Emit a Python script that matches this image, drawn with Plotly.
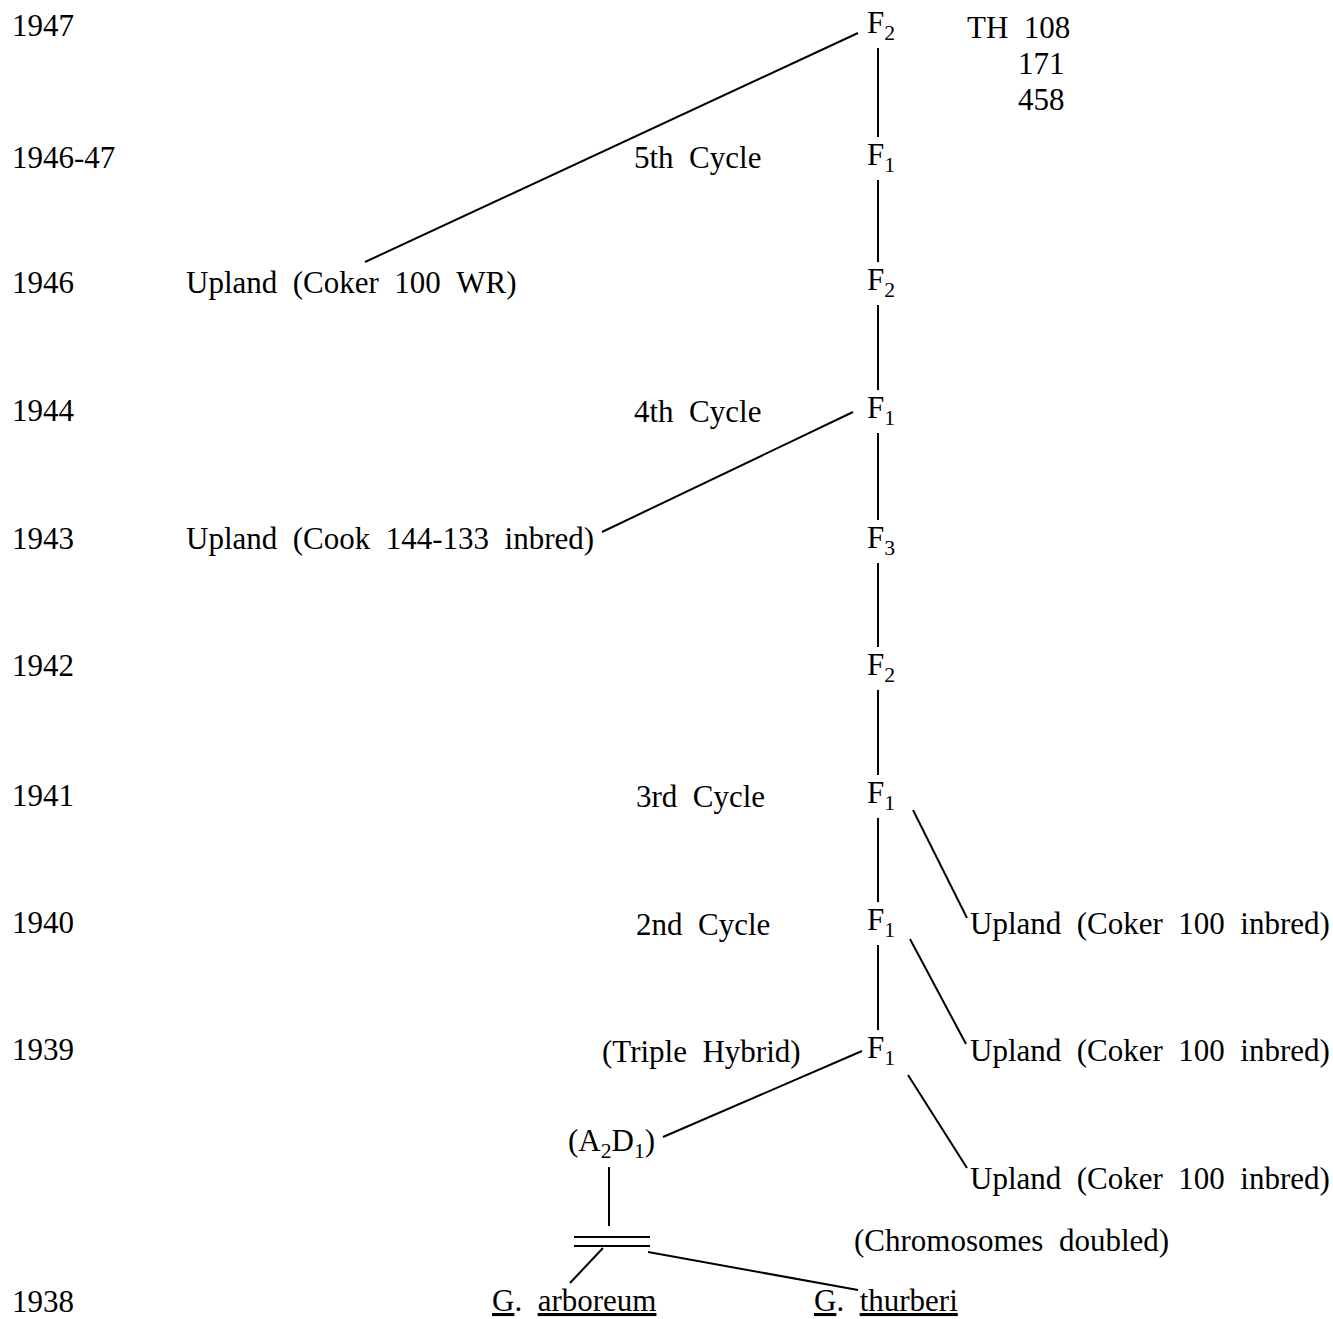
import plotly.graph_objects as go

# ---- data ----
years = ["1947", "1946-47", "1946", "1944", "1943", "1942", "1941", "1940", "1939", "1938"]
year_y = [25, 157, 282, 410, 538, 665, 795, 922, 1049, 1301]

gen_labels = ["F<sub>2</sub>", "F<sub>1</sub>", "F<sub>2</sub>", "F<sub>1</sub>", "F<sub>3</sub>",
              "F<sub>2</sub>", "F<sub>1</sub>", "F<sub>1</sub>", "F<sub>1</sub>"]
gen_y = [25, 157, 282, 410, 540, 667, 795, 922, 1050]
gen_x = 865
stem_x = 878

cycle_labels = ["5th Cycle", "4th Cycle", "3rd Cycle", "2nd Cycle", "(Triple Hybrid)"]
cycle_x = [632, 632, 634, 634, 600]
cycle_y = [157, 411, 796, 924, 1051]

left_parents = ["Upland (Coker 100 WR)", "Upland (Cook 144-133 inbred)"]
left_parent_y = [282, 538]
left_parent_x = 184

right_parents = ["Upland (Coker 100 inbred)"] * 3
right_parent_y = [923, 1050, 1178]
right_parent_x = 968

selections = ["TH 108", "171", "458"]
selection_y = [27, 63, 99]

species = ["<u>G</u>. <u>arboreum</u>", "<u>G</u>. <u>thurberi</u>"]
species_x = [490, 812]
species_y = [1300, 1300]

# connecting strokes: (x0, y0, x1, y1)
links = [
    (858, 33, 365, 262),
    (853, 412, 602, 532),
    (913, 810, 967, 918),
    (910, 939, 966, 1044),
    (908, 1075, 967, 1168),
    (862, 1051, 663, 1137),
    (609, 1167, 609, 1226),
    (574, 1237, 650, 1237),
    (574, 1246, 650, 1246),
    (603, 1248, 570, 1283),
    (648, 1252, 858, 1290),
]

SP = "\u2002"
FONT = dict(family="Liberation Serif, Times New Roman, serif", size=31, color="black")

fig = go.Figure()

# vertical stem between generation nodes
sx, sy = [], []
for a, b in zip(gen_y[:-1], gen_y[1:]):
    sx += [stem_x, stem_x, None]
    sy += [a + 23, b - 20, None]
fig.add_trace(go.Scatter(x=sx, y=sy, mode="lines", line=dict(color="black", width=2),
                         hoverinfo="skip", showlegend=False))

lx, ly = [], []
for x0, y0, x1, y1 in links:
    lx += [x0, x1, None]
    ly += [y0, y1, None]
fig.add_trace(go.Scatter(x=lx, y=ly, mode="lines", line=dict(color="black", width=2),
                         hoverinfo="skip", showlegend=False))

ann = []
def add(text, x, y, xa="left"):
    ann.append(dict(text=text.replace(" ", SP), x=x, y=y, xref="x", yref="y", xanchor=xa,
                    yanchor="middle", showarrow=False, font=FONT))

for t, y in zip(years, year_y):
    add(t, 10, y)
for t, y in zip(gen_labels, gen_y):
    add(t, gen_x, y)
for t, x, y in zip(cycle_labels, cycle_x, cycle_y):
    add(t, x, y)
for t, y in zip(left_parents, left_parent_y):
    add(t, left_parent_x, y)
for t, y in zip(right_parents, right_parent_y):
    add(t, right_parent_x, y)
add(selections[0], 965, selection_y[0])
for t, y in zip(selections[1:], selection_y[1:]):
    add(t, 1067, y, "right")
add("(A<sub>2</sub>D<sub>1</sub>)", 611, 1143, "center")
add("(Chromosomes doubled)", 852, 1240)
for t, x, y in zip(species, species_x, species_y):
    add(t, x, y)

fig.update_layout(
    width=1333, height=1319,
    margin=dict(l=0, r=0, t=0, b=0),
    paper_bgcolor="white", plot_bgcolor="white",
    xaxis=dict(range=[0, 1333], visible=False, fixedrange=True),
    yaxis=dict(range=[1319, 0], visible=False, fixedrange=True),
    annotations=ann,
    showlegend=False,
)
fig.write_html("out.html", config={"displayModeBar": False},
               post_script="document.body.style.margin='0';document.body.style.overflow='hidden';")
